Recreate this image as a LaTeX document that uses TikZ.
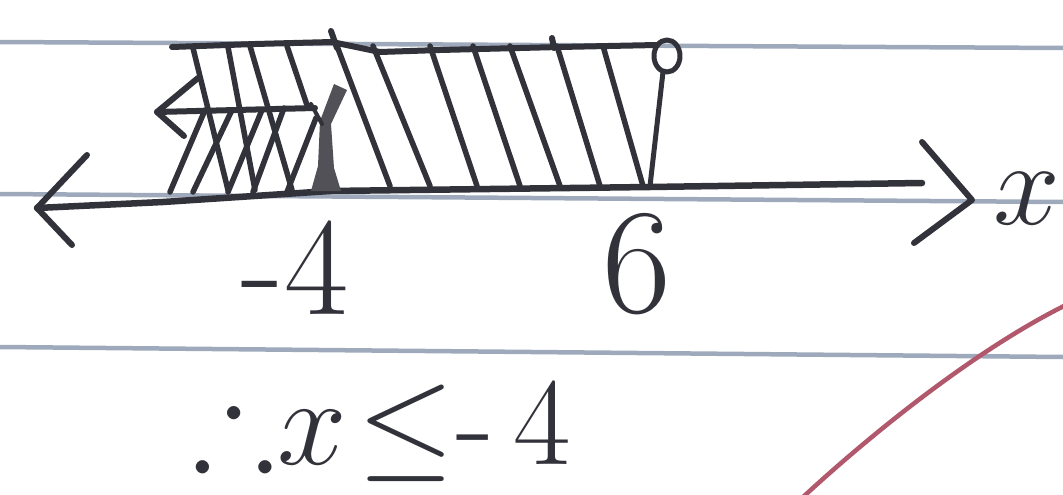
\documentclass[tikz,border=0pt]{standalone}
\usepackage{fix-cm}
\usepackage{amssymb}
\definecolor{ruleblue}{RGB}{158,170,188}
\definecolor{inkgrey}{RGB}{50,50,58}
\definecolor{redpen}{RGB}{178,88,108}
\begin{document}
\begin{tikzpicture}[x=1pt,y=-1pt,
  rule/.style={line width=4.5pt, draw=ruleblue},
  ink/.style={line width=6pt, draw=inkgrey, line cap=round, line join=round},
  hatch/.style={line width=5.5pt, draw=inkgrey, line cap=round},
  lbl/.style={text=inkgrey, inner sep=0pt}]
\clip (0,0) rectangle (1063,495);
\fill[white] (0,0) rectangle (1063,495);
% ruled paper lines
\draw[rule] (0,42) -- (1063,48);
\draw[rule] (0,194) -- (1063,202);
\draw[rule] (0,347) -- (1063,357);
% red margin curve
\draw[line width=4.5pt, draw=redpen, line cap=round] (802,498) .. controls (870,435) and (975,350) .. (1066,305);
% number line
\coordinate (L) at (37,208);
\coordinate (R) at (922,183);
\coordinate (Rt) at (972,200);
\draw[ink, line width=6.5pt] (L) -- (163,202) -- (330,191) -- (650,187) -- (R);
\draw[ink] (87,155) -- (L) -- (72,245);
\draw[ink] (922,142) -- (Rt) -- (914,243);
% top of shaded box
\draw[ink] (172,47) -- (255,44) -- (332,42) -- (380,52) -- (440,50) -- (560,47) -- (657,45);
\draw[ink] (331,31) -- (337,48);
\draw[ink] (552,38) -- (554,48);
% right hatching
\foreach \a/\b in {337/390, 373/430, 430/477, 473/520, 510/560, 557/600, 603/643}
  \draw[hatch] (\a,46) -- (\b,186);
% open circle at 6 and its stem
\coordinate (C) at (667,56);
\draw[ink, line width=5pt] (C) ellipse [x radius=13pt, y radius=16pt];
\draw[ink, line width=5pt] (663,72) -- (650,186);
% left cross-hatched part
\draw[ink] (198,78) -- (157,112) -- (184,136);
\draw[ink] (157,112) -- (315,108);
\foreach \a/\b/\c/\d in {193/48/228/190, 228/47/255/190, 250/46/292/190, 287/46/308/108}
  \draw[hatch] (\a,\b) -- (\c,\d);
\foreach \a/\b/\c/\d in {205/110/170/192, 232/110/193/192, 262/110/228/192, 284/108/253/192, 316/118/287/192}
  \draw[hatch] (\a,\b) -- (\c,\d);
\fill[inkgrey!85] (334,84) -- (347,90) -- (331,124) -- (334,168) -- (341,191) -- (311,191) -- (318,166) -- (320,121) -- cycle;
\draw[hatch, line width=4pt] (311,104) -- (322,124);
% labels
\node[lbl, font=\fontsize{140}{140}\selectfont] (m4) at (295,268) {-4};
\node[lbl, font=\fontsize{150}{150}\selectfont] (six) at (637,264) {6};
\node[lbl, anchor=base east, font=\fontsize{120}{120}\selectfont] (xlab) at (1060,224) {$x$};
\node[lbl, anchor=base west, font=\fontsize{125}{125}\selectfont] (concl) at (192,464) {$\therefore$\hspace{2pt}$x$\hspace{10pt}$\leq$\hspace{2pt}-\hspace{20pt}4};
\end{tikzpicture}
\end{document}
